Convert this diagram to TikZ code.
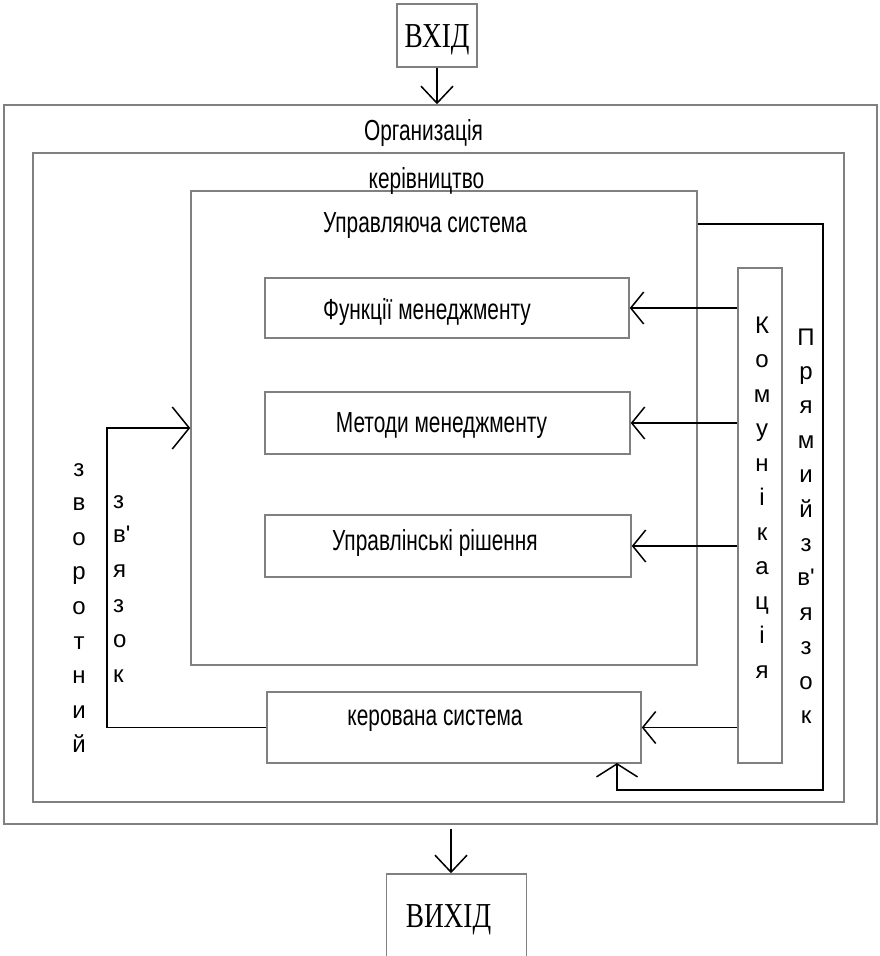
\documentclass[tikz,border=0pt]{standalone}
\usepackage{fontspec}
\setmainfont{Liberation Sans}
\newfontfamily\narrowsans[FakeStretch=0.72]{Liberation Sans}
\newfontfamily\narrowserif[FakeStretch=0.78]{Liberation Serif}
\usetikzlibrary{arrows.meta,positioning}
\definecolor{box_gray}{RGB}{128,128,128}
\tikzset{
  sys_box/.style = {draw=box_gray, line width=1.5pt, rectangle, inner sep=0pt},
  lbl_t/.style = {inner sep=0pt, anchor=base, font=\narrowsans\fontsize{29}{30}\selectfont},
  io_t/.style = {inner sep=0pt, anchor=base, font=\narrowserif\fontsize{35}{36}\selectfont},
  v_letter/.style = {inner sep=0pt, anchor=base, font=\fontsize{24}{26}\selectfont},
  link_l/.style = {draw=black, line width=1.5pt}
}

\begin{document}
\begin{tikzpicture}[x=1pt,y=-1pt,>={Straight Barb[length=13pt,width=32pt]},
        io_tip/.style={-{Straight Barb[length=17pt,width=32pt]}},
        fb_tip/.style={-{Straight Barb[length=17pt,width=42pt]}},
        dl_tip/.style={-{Straight Barb[length=13pt,width=41pt]}}]
  \useasboundingbox (0,0) rectangle (879,956);
  % boxes
  \node [sys_box, minimum width=80pt, minimum height=63pt] (vhid) at (437,35.5) {};
  \node [sys_box, minimum width=873pt, minimum height=719pt] (org) at (440.5,464.5) {};
  \node [sys_box, minimum width=811pt, minimum height=649pt] (kerivn) at (438.5,477.5) {};
  \node [sys_box, minimum width=506pt, minimum height=474pt] (upr) at (444,428) {};
  \node [sys_box, minimum width=364pt, minimum height=60pt] (func) at (447,308) {};
  \node [sys_box, minimum width=365pt, minimum height=62pt] (method) at (447.5,423) {};
  \node [sys_box, minimum width=366pt, minimum height=62pt] (rishen) at (448,546) {};
  \node [sys_box, minimum width=374pt, minimum height=71pt] (kerov) at (454,727.5) {};
  \node [sys_box, minimum width=44pt, minimum height=495pt] (komm) at (760,515.5) {};
  \node [sys_box, minimum width=140pt, minimum height=87pt] (vyhid) at (456.5,917.5) {};
  % texts
  \node [io_t] (vhid_t) at (437,47) {ВХІД};
  \node [io_t] (vyhid_t) at (448.5,927) {ВИХІД};
  \node [lbl_t] (org_t) at (423.5,140) {Организація};
  \node [lbl_t] (kerivn_t) at (426.5,188) {керівництво};
  \node [lbl_t] (upr_t) at (425,232) {Управляюча система};
  \node [lbl_t] (func_t) at (427,319) {Функції менеджменту};
  \node [lbl_t] (method_t) at (441.5,432) {Методи менеджменту};
  \node [lbl_t] (rishen_t) at (435,550) {Управлінські рішення};
  \node [lbl_t] (kerov_t) at (435,725) {керована система};
  % vertical words
  \foreach \ch [count=\i from 0] in {К,о,м,у,н,і,к,а,ц,і,я}
    \node [v_letter] (komm_l\i) at (762,333+34.5*\i) {\ch};
  \foreach \ch [count=\i from 0] in {П,р,я,м,и,й,з,в\textquotesingle,я,з,о,к}
    \node [v_letter] (dl_l\i) at (806,345+34.4*\i) {\ch};
  \foreach \ch [count=\i from 0] in {з,в,о,р,о,т,н,и,й}
    \node [v_letter] (fb_a\i) at (79,476+34.6*\i) {\ch};
  \foreach \ch [count=\i from 0] in {з,в\textquotesingle,я,з,о,к}
    \node [v_letter, anchor=base west] (fb_b\i) at (113,508+34.8*\i) {\ch};
  % connectors
  \coordinate (fb_corner) at (107,428);
  \coordinate (dl_top) at (823,224);
  \coordinate (dl_bot) at (823,790);
  \coordinate (dl_end) at (617,763);
  \draw [link_l, io_tip] (vhid.south) -- (org.north -| vhid.south);
  \draw [link_l, io_tip] ([yshift=-4pt]org.south -| 451,0) -- (vyhid.north -| 451,0);
  \foreach \b in {func,method,rishen,kerov}
    \draw [link_l, ->] (komm.west |- \b.east) -- (\b.east);
  \draw [link_l, fb_tip] (kerov.west) -| (fb_corner) -- (upr.west |- fb_corner);
  \draw [link_l, dl_tip] (upr.east |- dl_top) -- (dl_top) -- (dl_bot) -| (dl_end);
\end{tikzpicture}
\end{document}
